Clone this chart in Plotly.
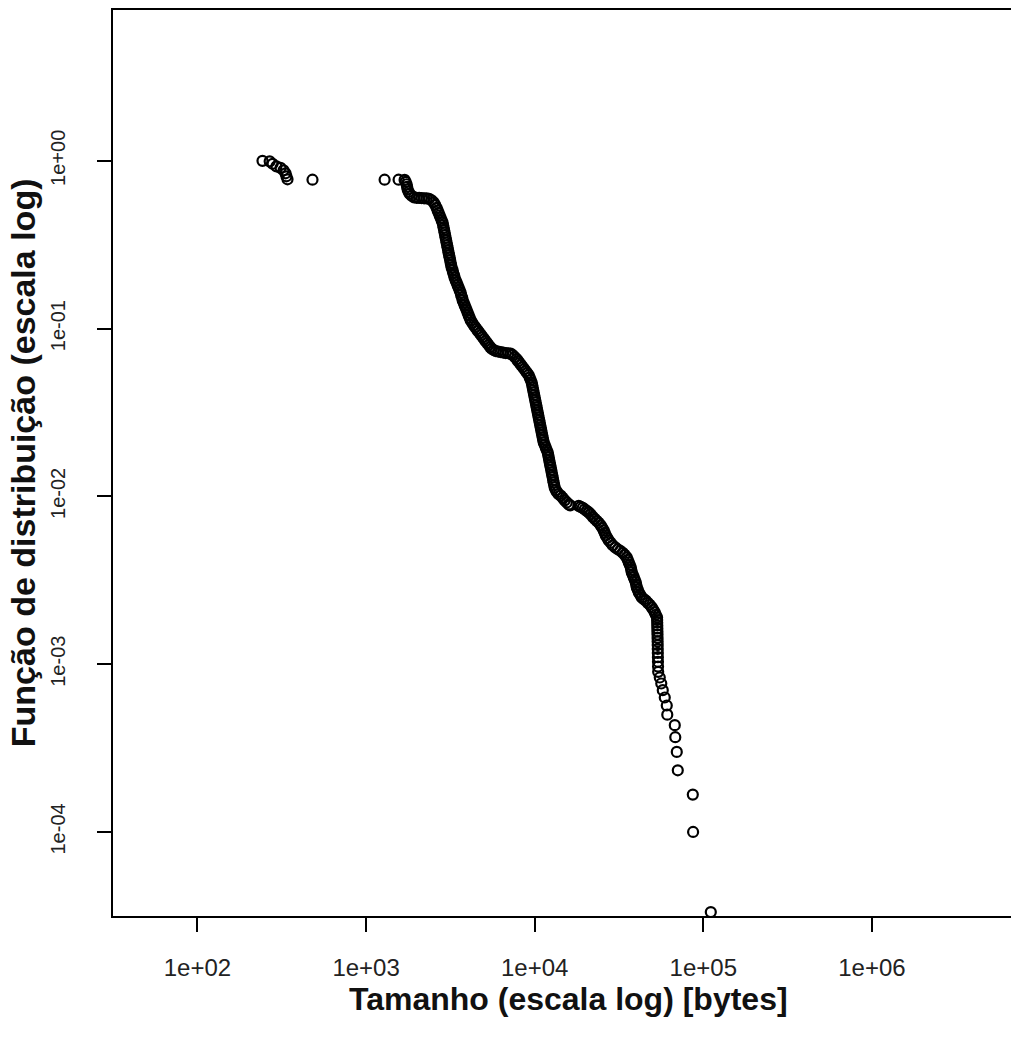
import plotly.graph_objects as go

# Complementary distribution of file sizes (log-log), one marker per distinct size.

# smallest files, up to the first isolated sizes
size_head = [243, 268, 279, 294, 311, 324, 333, 337, 342, 481, 1288, 1559]
ccdf_head = [1.000, 0.993, 0.960, 0.927, 0.908, 0.878, 0.843, 0.809, 0.776, 0.772, 0.772, 0.772]

# dense part of the distribution, ~1.7 kB to ~16 kB
size_body_a = [
    1692, 1716, 1739, 1751, 1763, 1787, 1812, 1862, 1927, 1994,
    2063, 2135, 2209, 2286, 2365, 2447, 2516, 2568, 2620, 2656,
    2693, 2730, 2768, 2806, 2844, 2864, 2884, 2904, 2924, 2943,
    2963, 2984, 3004, 3025, 3045, 3066, 3087, 3108, 3130, 3151,
    3173, 3194, 3216, 3260, 3283, 3328, 3351, 3397, 3444, 3491,
    3540, 3588, 3638, 3663, 3713, 3739, 3790, 3842, 3895, 3948,
    4002, 4058, 4113, 4170, 4256, 4345, 4435, 4527, 4621, 4716,
    4814, 4913, 5015, 5119, 5225, 5333, 5444, 5556, 5711, 5869,
    6074, 6284, 6504, 6729, 6962, 7205, 7404, 7610, 7820, 7982,
    8147, 8316, 8488, 8663, 8843, 9026, 9213, 9340, 9469, 9598,
    9666, 9730, 9797, 9865, 9931, 10000, 10070, 10138, 10207, 10277,
    10347, 10419, 10490, 10561, 10634, 10707, 10779, 10854, 10929, 11003,
    11079, 11156, 11230, 11308, 11463, 11622, 11782, 11944, 12026, 12110,
    12190, 12274, 12359, 12442, 12528, 12614, 12698, 12786, 12874, 12961,
    13050, 13140, 13320, 13596, 13878, 14263, 14659, 15066, 15485, 15915, 16245,
]
ccdf_body_a = [
    0.770, 0.750, 0.725, 0.700, 0.677, 0.654, 0.636, 0.619, 0.606, 0.602,
    0.601, 0.600, 0.598, 0.597, 0.594, 0.582, 0.566, 0.547, 0.525, 0.507,
    0.490, 0.474, 0.458, 0.442, 0.428, 0.413, 0.399, 0.386, 0.373, 0.360,
    0.348, 0.336, 0.325, 0.314, 0.304, 0.293, 0.283, 0.274, 0.265, 0.256,
    0.247, 0.239, 0.231, 0.223, 0.215, 0.208, 0.201, 0.194, 0.188, 0.1815,
    0.1754, 0.1695, 0.1638, 0.1583, 0.1530, 0.1478, 0.1429, 0.1380, 0.1334, 0.1289,
    0.1245, 0.1203, 0.1162, 0.1123, 0.1086, 0.1049, 0.1021, 0.0993, 0.0966, 0.0940,
    0.0915, 0.0890, 0.0866, 0.0842, 0.0820, 0.0798, 0.0776, 0.0760, 0.0745, 0.0735,
    0.0730, 0.0725, 0.0720, 0.0715, 0.0713, 0.0710, 0.0696, 0.0677, 0.0658, 0.0640,
    0.0623, 0.0606, 0.0590, 0.0574, 0.0558, 0.0543, 0.0529, 0.0511, 0.0494, 0.0477,
    0.0461, 0.0445, 0.0430, 0.0416, 0.0402, 0.0388, 0.0375, 0.0363, 0.0350, 0.0339,
    0.0327, 0.0316, 0.0306, 0.0295, 0.0285, 0.0276, 0.0266, 0.0257, 0.0249, 0.0240,
    0.0232, 0.0224, 0.0217, 0.0210, 0.0203, 0.0196, 0.0189, 0.0183, 0.0177, 0.0171,
    0.0165, 0.0159, 0.0154, 0.0149, 0.0144, 0.0139, 0.0134, 0.0130, 0.0125, 0.0121,
    0.0117, 0.0113, 0.0109, 0.0106, 0.0103, 0.0101, 0.00980, 0.00947, 0.00921, 0.00896, 0.00884,
]

# dense part, ~18 kB to ~52 kB
size_body_b = [
    18241, 18750, 19276, 19806, 20354, 20917, 21497, 22093, 22706, 23334,
    23982, 24646, 25155, 25676, 26028, 26388, 26935, 27493, 28250, 29034,
    30040, 31088, 32157, 33283, 34204, 35156, 35639, 36132, 36628, 37135,
    37384, 37643, 38159, 38690, 39221, 39760, 40035, 40312, 40866, 41426,
    42284, 43152, 44356, 45589, 46845, 48146, 49483, 50507, 51552, 52260,
]
ccdf_body_b = [
    0.00878, 0.00866, 0.00854, 0.00837, 0.00820, 0.00803, 0.00781, 0.00755, 0.00735, 0.00715,
    0.00696, 0.00672, 0.00650, 0.00627, 0.00606, 0.00586, 0.00566, 0.00547, 0.00529, 0.00511,
    0.00497, 0.00484, 0.00474, 0.00461, 0.00448, 0.00433, 0.00419, 0.00405, 0.00391, 0.00378,
    0.00365, 0.00353, 0.00341, 0.00330, 0.00318, 0.00308, 0.00297, 0.00287, 0.00278, 0.00268,
    0.00259, 0.00250, 0.00244, 0.00239, 0.00232, 0.00226, 0.00218, 0.00211, 0.00204, 0.00197,
]

# near-vertical run of sizes just above 53 kB
size_column = [53200, 53250, 53300, 53350, 53400, 53450, 53500, 53550,
               53600, 53650, 53700, 53750, 53800, 53850, 53900, 54000]
ccdf_column = [0.00190, 0.001833, 0.001767, 0.00170, 0.001633, 0.001567, 0.00150, 0.001433,
               0.001367, 0.00130, 0.001233, 0.001167, 0.00110, 0.001033, 0.000967, 0.00090]

# largest files
size_tail = [55190, 56330, 57500, 59090, 60730, 61150, 67750, 68210, 69620, 70580,
             86650, 87000, 110800]
ccdf_tail = [0.000833, 0.000767, 0.000700, 0.000633, 0.000567, 0.000500, 0.000433,
             0.000367, 0.000300, 0.000233, 0.000167, 0.000100, 0.0000333]

x_tick_vals = [1e2, 1e3, 1e4, 1e5, 1e6]
x_tick_text = ["1e+02", "1e+03", "1e+04", "1e+05", "1e+06"]
y_tick_vals = [1e-4, 1e-3, 1e-2, 1e-1, 1e0]
y_tick_text = ["1e-04", "1e-03", "1e-02", "1e-01", "1e+00"]

sizes = size_head + size_body_a + size_body_b + size_column + size_tail
ccdf = ccdf_head + ccdf_body_a + ccdf_body_b + ccdf_column + ccdf_tail

fig = go.Figure()
fig.add_trace(go.Scatter(
    x=sizes, y=ccdf, mode="markers",
    marker=dict(symbol="circle-open", size=10, color="black",
                line=dict(width=2.2, color="black")),
    showlegend=False, hoverinfo="x+y",
))

FONT = "Liberation Sans, Arial, sans-serif"

fig.update_layout(
    width=1011, height=1037,
    margin=dict(l=113, r=0, t=10, b=121),
    paper_bgcolor="white", plot_bgcolor="white",
    font=dict(family=FONT, color="black"),
    xaxis=dict(
        type="log", range=[1.499, 6.825],
        tickvals=x_tick_vals, ticktext=x_tick_text,
        ticks="outside", ticklen=14, tickwidth=1.5, tickcolor="black",
        tickfont=dict(family=FONT, size=24, color="#222"),
        ticklabelstandoff=15,
        showline=True, linecolor="black", linewidth=2, mirror=True,
        showgrid=False, zeroline=False,
    ),
    yaxis=dict(
        type="log", range=[-4.501, 0.899],
        tickvals=y_tick_vals, ticktext=y_tick_text, tickangle=-90,
        ticks="outside", ticklen=14, tickwidth=1.5, tickcolor="black",
        tickfont=dict(family=FONT, size=20, color="#222"),
        ticklabelstandoff=24,
        showline=True, linecolor="black", linewidth=2, mirror=False,
        showgrid=False, zeroline=False,
    ),
    annotations=[
        dict(text="<b>Tamanho (escala log) [bytes]</b>", xref="paper", yref="paper",
             x=0.5067, y=-0.092, xanchor="center", yanchor="middle", showarrow=False,
             font=dict(family=FONT, size=32, color="#111")),
        dict(text="<b>Função de distribuição (escala log)</b>", xref="paper", yref="paper",
             x=-0.1, y=0.5, xanchor="center", yanchor="middle", showarrow=False,
             textangle=-90, font=dict(family=FONT, size=34, color="#111")),
    ],
)

fig.write_html("out.html")
